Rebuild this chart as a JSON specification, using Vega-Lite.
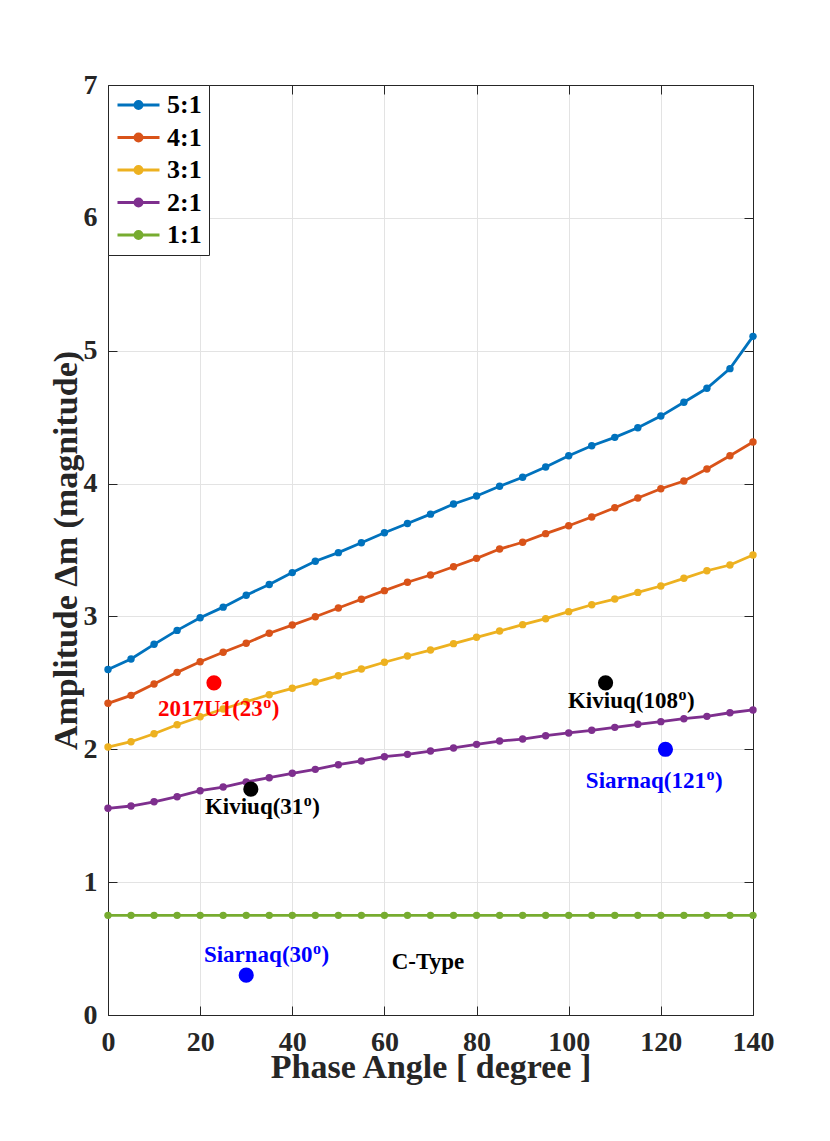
{
  "$schema": "https://vega.github.io/schema/vega-lite/v6.json",
  "width": 645,
  "height": 930,
  "autosize": {"type": "none"},
  "padding": {"left": 108, "top": 85, "right": 77, "bottom": 126},
  "background": "white",
  "config": {
    "font": "Liberation Serif",
    "view": {"stroke": "#262626", "strokeWidth": 1}
  },
  "datasets": {
    "curves": [
      {"angle":0,"amp":2.60,"ratio":"5:1"},{"angle":5,"amp":2.68,"ratio":"5:1"},{"angle":10,"amp":2.79,"ratio":"5:1"},{"angle":15,"amp":2.895,"ratio":"5:1"},{"angle":20,"amp":2.99,"ratio":"5:1"},{"angle":25,"amp":3.07,"ratio":"5:1"},{"angle":30,"amp":3.16,"ratio":"5:1"},{"angle":35,"amp":3.24,"ratio":"5:1"},{"angle":40,"amp":3.33,"ratio":"5:1"},{"angle":45,"amp":3.415,"ratio":"5:1"},{"angle":50,"amp":3.48,"ratio":"5:1"},{"angle":55,"amp":3.555,"ratio":"5:1"},{"angle":60,"amp":3.63,"ratio":"5:1"},{"angle":65,"amp":3.70,"ratio":"5:1"},{"angle":70,"amp":3.77,"ratio":"5:1"},{"angle":75,"amp":3.846,"ratio":"5:1"},{"angle":80,"amp":3.906,"ratio":"5:1"},{"angle":85,"amp":3.98,"ratio":"5:1"},{"angle":90,"amp":4.047,"ratio":"5:1"},{"angle":95,"amp":4.125,"ratio":"5:1"},{"angle":100,"amp":4.21,"ratio":"5:1"},{"angle":105,"amp":4.285,"ratio":"5:1"},{"angle":110,"amp":4.348,"ratio":"5:1"},{"angle":115,"amp":4.42,"ratio":"5:1"},{"angle":120,"amp":4.508,"ratio":"5:1"},{"angle":125,"amp":4.612,"ratio":"5:1"},{"angle":130,"amp":4.717,"ratio":"5:1"},{"angle":135,"amp":4.865,"ratio":"5:1"},{"angle":140,"amp":5.108,"ratio":"5:1"},
      {"angle":0,"amp":2.346,"ratio":"4:1"},{"angle":5,"amp":2.406,"ratio":"4:1"},{"angle":10,"amp":2.491,"ratio":"4:1"},{"angle":15,"amp":2.579,"ratio":"4:1"},{"angle":20,"amp":2.659,"ratio":"4:1"},{"angle":25,"amp":2.73,"ratio":"4:1"},{"angle":30,"amp":2.798,"ratio":"4:1"},{"angle":35,"amp":2.873,"ratio":"4:1"},{"angle":40,"amp":2.935,"ratio":"4:1"},{"angle":45,"amp":2.998,"ratio":"4:1"},{"angle":50,"amp":3.063,"ratio":"4:1"},{"angle":55,"amp":3.129,"ratio":"4:1"},{"angle":60,"amp":3.194,"ratio":"4:1"},{"angle":65,"amp":3.257,"ratio":"4:1"},{"angle":70,"amp":3.312,"ratio":"4:1"},{"angle":75,"amp":3.374,"ratio":"4:1"},{"angle":80,"amp":3.437,"ratio":"4:1"},{"angle":85,"amp":3.507,"ratio":"4:1"},{"angle":90,"amp":3.558,"ratio":"4:1"},{"angle":95,"amp":3.623,"ratio":"4:1"},{"angle":100,"amp":3.683,"ratio":"4:1"},{"angle":105,"amp":3.748,"ratio":"4:1"},{"angle":110,"amp":3.818,"ratio":"4:1"},{"angle":115,"amp":3.891,"ratio":"4:1"},{"angle":120,"amp":3.961,"ratio":"4:1"},{"angle":125,"amp":4.019,"ratio":"4:1"},{"angle":130,"amp":4.11,"ratio":"4:1"},{"angle":135,"amp":4.21,"ratio":"4:1"},{"angle":140,"amp":4.313,"ratio":"4:1"},
      {"angle":0,"amp":2.017,"ratio":"3:1"},{"angle":5,"amp":2.057,"ratio":"3:1"},{"angle":10,"amp":2.117,"ratio":"3:1"},{"angle":15,"amp":2.185,"ratio":"3:1"},{"angle":20,"amp":2.245,"ratio":"3:1"},{"angle":25,"amp":2.303,"ratio":"3:1"},{"angle":30,"amp":2.358,"ratio":"3:1"},{"angle":35,"amp":2.411,"ratio":"3:1"},{"angle":40,"amp":2.459,"ratio":"3:1"},{"angle":45,"amp":2.506,"ratio":"3:1"},{"angle":50,"amp":2.554,"ratio":"3:1"},{"angle":55,"amp":2.604,"ratio":"3:1"},{"angle":60,"amp":2.655,"ratio":"3:1"},{"angle":65,"amp":2.702,"ratio":"3:1"},{"angle":70,"amp":2.747,"ratio":"3:1"},{"angle":75,"amp":2.795,"ratio":"3:1"},{"angle":80,"amp":2.843,"ratio":"3:1"},{"angle":85,"amp":2.89,"ratio":"3:1"},{"angle":90,"amp":2.938,"ratio":"3:1"},{"angle":95,"amp":2.983,"ratio":"3:1"},{"angle":100,"amp":3.036,"ratio":"3:1"},{"angle":105,"amp":3.088,"ratio":"3:1"},{"angle":110,"amp":3.131,"ratio":"3:1"},{"angle":115,"amp":3.181,"ratio":"3:1"},{"angle":120,"amp":3.229,"ratio":"3:1"},{"angle":125,"amp":3.287,"ratio":"3:1"},{"angle":130,"amp":3.344,"ratio":"3:1"},{"angle":135,"amp":3.387,"ratio":"3:1"},{"angle":140,"amp":3.462,"ratio":"3:1"},
      {"angle":0,"amp":1.556,"ratio":"2:1"},{"angle":5,"amp":1.573,"ratio":"2:1"},{"angle":10,"amp":1.605,"ratio":"2:1"},{"angle":15,"amp":1.643,"ratio":"2:1"},{"angle":20,"amp":1.688,"ratio":"2:1"},{"angle":25,"amp":1.716,"ratio":"2:1"},{"angle":30,"amp":1.754,"ratio":"2:1"},{"angle":35,"amp":1.786,"ratio":"2:1"},{"angle":40,"amp":1.819,"ratio":"2:1"},{"angle":45,"amp":1.849,"ratio":"2:1"},{"angle":50,"amp":1.884,"ratio":"2:1"},{"angle":55,"amp":1.912,"ratio":"2:1"},{"angle":60,"amp":1.944,"ratio":"2:1"},{"angle":65,"amp":1.962,"ratio":"2:1"},{"angle":70,"amp":1.987,"ratio":"2:1"},{"angle":75,"amp":2.01,"ratio":"2:1"},{"angle":80,"amp":2.037,"ratio":"2:1"},{"angle":85,"amp":2.062,"ratio":"2:1"},{"angle":90,"amp":2.077,"ratio":"2:1"},{"angle":95,"amp":2.102,"ratio":"2:1"},{"angle":100,"amp":2.123,"ratio":"2:1"},{"angle":105,"amp":2.143,"ratio":"2:1"},{"angle":110,"amp":2.165,"ratio":"2:1"},{"angle":115,"amp":2.188,"ratio":"2:1"},{"angle":120,"amp":2.208,"ratio":"2:1"},{"angle":125,"amp":2.23,"ratio":"2:1"},{"angle":130,"amp":2.248,"ratio":"2:1"},{"angle":135,"amp":2.275,"ratio":"2:1"},{"angle":140,"amp":2.296,"ratio":"2:1"},
      {"angle":0,"amp":0.75,"ratio":"1:1"},{"angle":5,"amp":0.75,"ratio":"1:1"},{"angle":10,"amp":0.75,"ratio":"1:1"},{"angle":15,"amp":0.75,"ratio":"1:1"},{"angle":20,"amp":0.75,"ratio":"1:1"},{"angle":25,"amp":0.75,"ratio":"1:1"},{"angle":30,"amp":0.75,"ratio":"1:1"},{"angle":35,"amp":0.75,"ratio":"1:1"},{"angle":40,"amp":0.75,"ratio":"1:1"},{"angle":45,"amp":0.75,"ratio":"1:1"},{"angle":50,"amp":0.75,"ratio":"1:1"},{"angle":55,"amp":0.75,"ratio":"1:1"},{"angle":60,"amp":0.75,"ratio":"1:1"},{"angle":65,"amp":0.75,"ratio":"1:1"},{"angle":70,"amp":0.75,"ratio":"1:1"},{"angle":75,"amp":0.75,"ratio":"1:1"},{"angle":80,"amp":0.75,"ratio":"1:1"},{"angle":85,"amp":0.75,"ratio":"1:1"},{"angle":90,"amp":0.75,"ratio":"1:1"},{"angle":95,"amp":0.75,"ratio":"1:1"},{"angle":100,"amp":0.75,"ratio":"1:1"},{"angle":105,"amp":0.75,"ratio":"1:1"},{"angle":110,"amp":0.75,"ratio":"1:1"},{"angle":115,"amp":0.75,"ratio":"1:1"},{"angle":120,"amp":0.75,"ratio":"1:1"},{"angle":125,"amp":0.75,"ratio":"1:1"},{"angle":130,"amp":0.75,"ratio":"1:1"},{"angle":135,"amp":0.75,"ratio":"1:1"},{"angle":140,"amp":0.75,"ratio":"1:1"}
    ],
    "obs": [
      {"angle":23,"amp":2.5,"group":"2017U1"},
      {"angle":31,"amp":1.7,"group":"Kiviuq"},
      {"angle":108,"amp":2.5,"group":"Kiviuq"},
      {"angle":121,"amp":2.0,"group":"Siarnaq"},
      {"angle":30,"amp":0.3,"group":"Siarnaq"}
    ],
    "labels": [
      {"angle":33.6,"amp":2.25,"group":"2017U1","base":"2017U1(23","sup":"o","close":")"},
      {"angle":42.4,"amp":1.513,"group":"Kiviuq","base":"Kiviuq(31","sup":"o","close":")"},
      {"angle":123.7,"amp":2.311,"group":"Kiviuq","base":"Kiviuq(108","sup":"o","close":")"},
      {"angle":129.8,"amp":1.709,"group":"Siarnaq","base":"Siarnaq(121","sup":"o","close":")"},
      {"angle":44.4,"amp":0.399,"group":"Siarnaq","base":"Siarnaq(30","sup":"o","close":")"},
      {"angle":77.3,"amp":0.346,"group":"C-Type","base":"C-Type","sup":"","close":""}
    ]
  },
  "resolve": {"axis": {"x": "independent", "y": "independent"}},
  "layer": [
    {
      "data": {"name": "curves"},
      "encoding": {
        "x": {"field": "angle", "type": "quantitative",
          "scale": {"domain": [0, 140], "nice": false, "zero": false},
          "axis": {"title": "Phase Angle [ degree ]", "values": [0,20,40,60,80,100,120,140],
            "tickSize": -9, "labelPadding": 22, "titlePadding": -6,
            "grid": true, "gridColor": "#e3e3e3", "domainColor": "#262626", "tickColor": "#262626",
            "labelColor": "#262626", "titleColor": "#262626", "labelFontSize": 28, "labelFontWeight": "bold",
            "titleFontSize": 34, "titleFontWeight": "bold", "labelFont": "Liberation Serif", "titleFont": "Liberation Serif",
            "labelFlush": false, "labelOverlap": false}},
        "y": {"field": "amp", "type": "quantitative",
          "scale": {"domain": [0, 7], "nice": false},
          "axis": {"title": "Amplitude Δm (magnitude)", "values": [0,1,2,3,4,5,6,7],
            "tickSize": -9, "labelPadding": 20, "titlePadding": 0,
            "grid": true, "gridColor": "#e3e3e3", "domainColor": "#262626", "tickColor": "#262626",
            "labelColor": "#262626", "titleColor": "#262626", "labelFontSize": 28, "labelFontWeight": "bold",
            "titleFontSize": 34, "titleFontWeight": "bold", "labelFont": "Liberation Serif", "titleFont": "Liberation Serif",
            "labelFlush": false, "labelOverlap": false}},
        "color": {"field": "ratio", "type": "nominal",
          "scale": {"domain": ["5:1","4:1","3:1","2:1","1:1","2017U1","Kiviuq","Siarnaq","C-Type"],
                    "range": ["#0072BD","#D95319","#EDB120","#7E2F8E","#77AC30","#FF0000","#000000","#0000FF","#000000"]},
          "legend": {"title": null, "orient": "top-left", "offset": 0, "values": ["5:1","4:1","3:1","2:1","1:1"],
            "labelFontSize": 26, "labelFont": "Liberation Serif", "labelFontWeight": "bold", "labelColor": "#000000",
            "strokeColor": "#262626", "fillColor": "white", "padding": 7, "rowPadding": 6.5, "labelOffset": 26,
            "symbolOffset": 0,
            "symbolType": "M-1,0H3M1.34,0C1.34,0.188,1.188,0.34,1,0.34C0.812,0.34,0.66,0.188,0.66,0C0.66,-0.188,0.812,-0.34,1,-0.34C1.188,-0.34,1.34,-0.188,1.34,0Z",
            "symbolSize": 441, "symbolStrokeWidth": 2.8,
            "encode": {"symbols": {"update": {"fill": {"scale": "color", "field": "value"}, "stroke": {"scale": "color", "field": "value"}, "opacity": {"value": 1}}}}}}
      },
      "layer": [
        {"mark": {"type": "line", "strokeWidth": 2.8}},
        {"mark": {"type": "point", "filled": true, "size": 55, "opacity": 1}}
      ]
    },
    {
      "data": {"name": "obs"},
      "mark": {"type": "point", "filled": true, "size": 230, "opacity": 1},
      "encoding": {
        "x": {"field": "angle", "type": "quantitative", "axis": null},
        "y": {"field": "amp", "type": "quantitative", "axis": null},
        "color": {"field": "group", "type": "nominal", "legend": null}
      }
    },
    {
      "data": {"name": "labels"},
      "encoding": {
        "x": {"field": "angle", "type": "quantitative", "axis": null},
        "y": {"field": "amp", "type": "quantitative", "axis": null},
        "color": {"field": "group", "type": "nominal", "legend": null}
      },
      "layer": [
        {"mark": {"type": "text", "font": "Liberation Serif", "fontWeight": "bold", "fontSize": 23, "align": "right", "baseline": "alphabetic"},
         "encoding": {"text": {"field": "base"}}},
        {"mark": {"type": "text", "font": "Liberation Serif", "fontWeight": "bold", "fontSize": 16, "align": "left", "baseline": "alphabetic", "dx": 0.5, "dy": -8},
         "encoding": {"text": {"field": "sup"}}},
        {"mark": {"type": "text", "font": "Liberation Serif", "fontWeight": "bold", "fontSize": 23, "align": "left", "baseline": "alphabetic", "dx": 9},
         "encoding": {"text": {"field": "close"}}}
      ]
    },
    {
      "data": {"name": "curves"},
      "mark": {"type": "point", "opacity": 0},
      "encoding": {
        "x": {"field": "angle", "type": "quantitative",
          "axis": {"orient": "top", "labels": false, "title": null, "grid": false, "tickSize": -9, "values": [0,20,40,60,80,100,120,140], "domainColor": "#262626", "tickColor": "#262626"}},
        "y": {"field": "amp", "type": "quantitative",
          "axis": {"orient": "right", "labels": false, "title": null, "grid": false, "tickSize": -9, "values": [0,1,2,3,4,5,6,7], "domainColor": "#262626", "tickColor": "#262626"}}
      }
    }
  ]
}
